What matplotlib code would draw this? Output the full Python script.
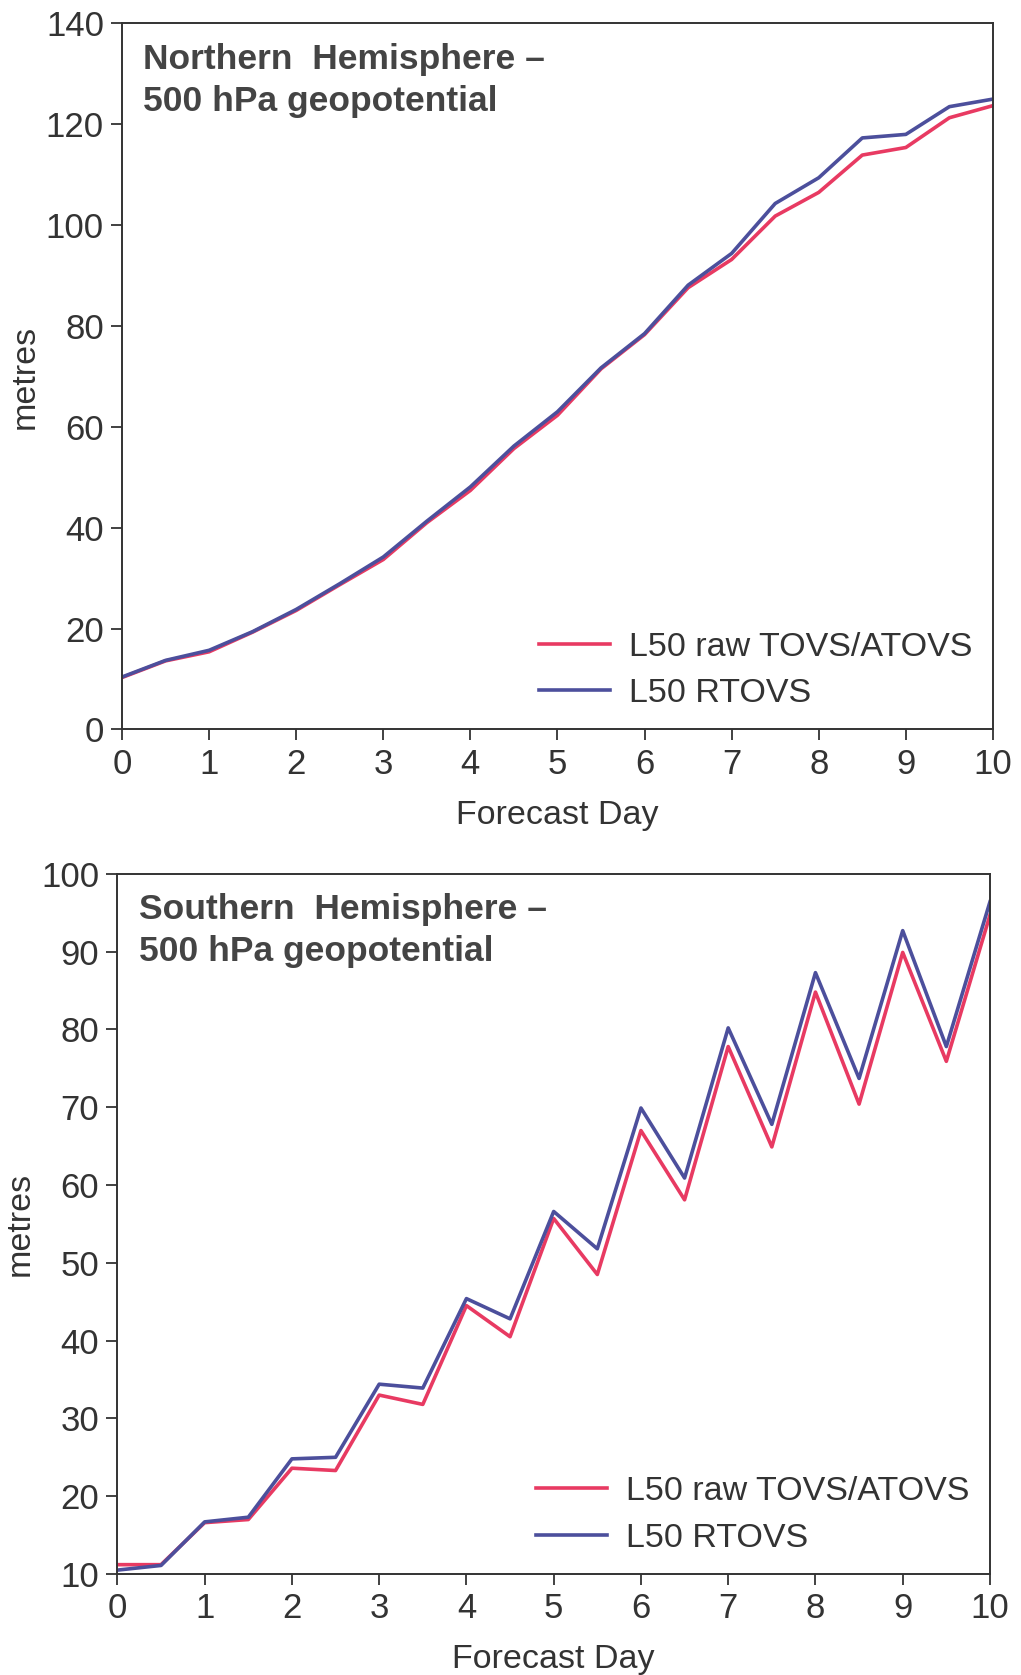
import numpy as np
import matplotlib.pyplot as plt

plt.rcParams['font.family'] = ['Liberation Sans', 'DejaVu Sans']

# forecast days, every 12 hours
days = np.arange(0, 10.5, 0.5)

# Northern Hemisphere 500 hPa geopotential RMS error (metres)
nh_raw = [10.3, 13.6, 15.4, 19.3, 23.6, 28.7, 33.7, 41.0, 47.4, 55.7, 62.3,
          71.5, 78.3, 87.6, 93.2, 101.8, 106.5, 113.9, 115.4, 121.3, 123.7]
nh_rtovs = [10.4, 13.7, 15.7, 19.4, 23.8, 28.9, 34.2, 41.3, 48.1, 56.2, 63.0,
            71.7, 78.5, 88.1, 94.4, 104.3, 109.4, 117.3, 118.0, 123.5, 125.0]

# Southern Hemisphere 500 hPa geopotential RMS error (metres)
sh_raw = [11.2, 11.2, 16.6, 17.0, 23.6, 23.3, 33.0, 31.8, 44.5, 40.5, 55.7,
          48.5, 67.0, 58.1, 77.8, 64.9, 84.8, 70.4, 89.9, 75.9, 94.7]
sh_rtovs = [10.5, 11.1, 16.7, 17.3, 24.8, 25.0, 34.4, 33.9, 45.4, 42.8, 56.6,
            51.8, 69.9, 60.9, 80.2, 67.8, 87.3, 73.7, 92.7, 77.8, 96.4]

labels = ['L50 raw TOVS/ATOVS', 'L50 RTOVS']
red = '#e83a62'
blue = '#4c4f9c'
text_col = '#333333'

fig = plt.figure(figsize=(10.21, 16.75), dpi=100)
ax1 = fig.add_axes([0.1195, 0.5645, 0.853, 0.4215])
ax2 = fig.add_axes([0.115, 0.0603, 0.8546, 0.418])


def style(ax, raw, rtovs, ylim, yticks, title):
    ax.plot(days, raw, color=red, lw=2.6, label=labels[0])
    ax.plot(days, rtovs, color=blue, lw=2.6, label=labels[1])
    ax.set_xlim(0, 10)
    ax.set_ylim(*ylim)
    ax.set_xticks(range(11))
    ax.set_yticks(yticks)
    ax.tick_params(direction='out', length=8, width=1.3, labelsize=25,
                   colors=text_col, pad=5)
    for s in ax.spines.values():
        s.set_linewidth(1.4)
        s.set_color('#333333')
    ax.set_xlabel('Forecast Day', fontsize=24.5, color=text_col, labelpad=14)
    ax.set_ylabel('metres', fontsize=24.5, color=text_col, labelpad=4)
    ax.text(0.0245, 0.972, title, transform=ax.transAxes, va='top', ha='left',
            fontsize=25.5, fontweight='bold', color='#444444', linespacing=1.32)
    ax.legend(loc='lower right', frameon=False, fontsize=24.5, handlelength=2.1,
              handletextpad=0.55, labelspacing=0.45, borderaxespad=0.2,
              labelcolor=text_col)


style(ax1, nh_raw, nh_rtovs, (0, 140), range(0, 141, 20),
      'Northern  Hemisphere \u2013\n500 hPa geopotential')
style(ax2, sh_raw, sh_rtovs, (10, 100), range(10, 101, 10),
      'Southern  Hemisphere \u2013\n500 hPa geopotential')

fig.savefig('out.png', dpi=100)
